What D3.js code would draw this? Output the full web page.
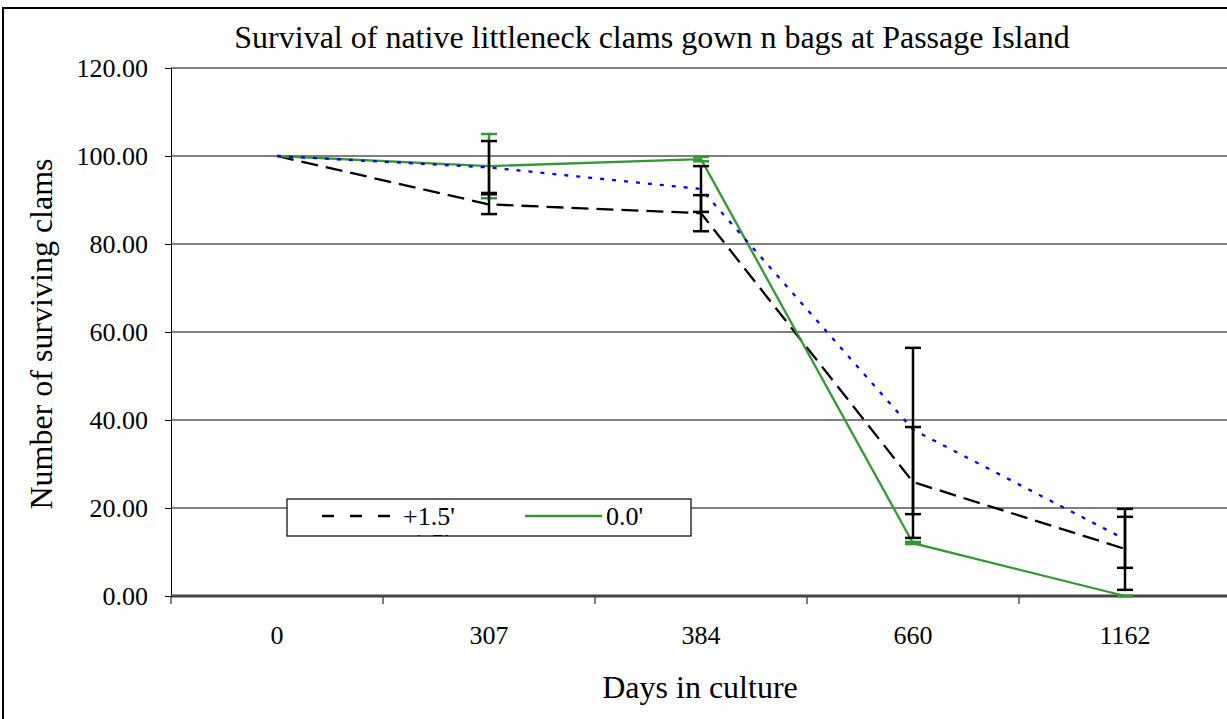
<!DOCTYPE html>
<html><head><meta charset="utf-8">
<script src="https://cdn.jsdelivr.net/npm/d3@7"></script>
<style>html,body{margin:0;padding:0;background:#fff;overflow:hidden}svg{display:block}svg text{font-family:"Liberation Serif","DejaVu Serif",serif !important}</style>
</head><body><svg id="c" width="1227" height="719"></svg>
<script>
const days = ["0", "307", "384", "660", "1162"];
const plus15 = [100, 89.0, 87.0, 25.9, 10.7];
const minus15 = [100, 97.4, 92.5, 37.8, 12.9];
const zero = [100, 97.7, 99.3, 12.0, 0];
const plus15Lo = [null, 86.8, 82.9, 13.2, 1.4];
const plus15Hi = [null, 91.3, 91.1, 38.4, 18.0];
const minus15Lo = [null, 91.6, 87.3, 18.6, 6.4];
const minus15Hi = [null, 103.4, 97.7, 56.4, 19.8];
const zeroLo = [null, 90.4, 98.8, 11.8, 0];
const zeroHi = [null, 105.0, 99.8, 12.3, 0];
const yTicks = [0, 20, 40, 60, 80, 100, 120];
const legendNames = ["+1.5'", "0.0'", "-1.5'"];
const titleText = "Survival of native littleneck clams gown n bags at Passage Island";
const xTitle = "Days in culture";
const yTitle = "Number of surviving clams";

const FONT = "Liberation Serif";
const svg = d3.select("#c");
const L = 171, T = 68, B = 596, R = 1231;
const x = d3.scaleBand().domain(days).range([L, R]);
const y = d3.scaleLinear().domain([0, 120]).range([B, T]);
const cx = d => x(d) + x.bandwidth() / 2;

// outer frame
svg.append("rect").attr("x", 3).attr("y", 8).attr("width", 1240).attr("height", 730)
  .attr("fill", "none").attr("stroke", "#000").attr("stroke-width", 2);

// gridlines
svg.append("g").selectAll("line").data(yTicks.filter(v => v > 0 && v < 120)).join("line")
  .attr("x1", L).attr("x2", R).attr("y1", d => y(d)).attr("y2", d => y(d))
  .attr("stroke", "#000").attr("stroke-width", 1);
svg.append("line").attr("x1", L).attr("x2", R).attr("y1", y(120)).attr("y2", y(120))
  .attr("stroke", "#808080").attr("stroke-width", 2);

// y axis
const ya = svg.append("g").attr("transform", `translate(${L},0)`)
  .call(d3.axisLeft(y).tickValues(yTicks).tickFormat(d3.format(".2f")).tickSize(6).tickPadding(17));
ya.attr("font-family", FONT);
ya.select(".domain").attr("stroke", "#000");
ya.selectAll("text").attr("font-size", 26).attr("font-family", FONT).attr("fill", "#000").attr("dy", "0.34em");

// x axis
const xa = svg.append("g").attr("transform", `translate(0,${B})`)
  .call(d3.axisBottom(x).tickSize(0).tickPadding(30));
xa.attr("font-family", FONT);
xa.select(".domain").remove();
xa.selectAll("text").attr("font-size", 26).attr("font-family", FONT).attr("fill", "#000");
svg.append("g").selectAll("line").data(days).join("line")
  .attr("x1", d => x(d)).attr("x2", d => x(d)).attr("y1", B).attr("y2", B + 8)
  .attr("stroke", "#000").attr("stroke-width", 1);
svg.append("line").attr("x1", L).attr("x2", R).attr("y1", B).attr("y2", B)
  .attr("stroke", "#444").attr("stroke-width", 2.8);

// lines
const line = d3.line().x((d, i) => cx(days[i])).y(d => y(d));
svg.append("path").datum(plus15).attr("d", line).attr("fill", "none")
  .attr("stroke", "#000").attr("stroke-width", 2.3).attr("stroke-dasharray", "17,8");
svg.append("path").datum(zero).attr("d", line).attr("fill", "none")
  .attr("stroke", "#339933").attr("stroke-width", 2.3);
svg.append("path").datum(minus15).attr("d", line).attr("fill", "none")
  .attr("stroke", "#0000ff").attr("stroke-width", 2.3).attr("stroke-dasharray", "4,8");

// error bars
function errBars(lo, hi, color) {
  const g = svg.append("g").attr("stroke", color).attr("stroke-width", 2.5);
  const data = days.map((d, i) => ({ d, lo: lo[i], hi: hi[i] })).filter(e => e.lo !== null);
  g.selectAll(".v").data(data).join("line")
    .attr("x1", e => cx(e.d)).attr("x2", e => cx(e.d)).attr("y1", e => y(e.lo)).attr("y2", e => y(e.hi));
  g.selectAll(".c1").data(data).join("line")
    .attr("x1", e => cx(e.d) - 8).attr("x2", e => cx(e.d) + 8).attr("y1", e => y(e.lo)).attr("y2", e => y(e.lo));
  g.selectAll(".c2").data(data).join("line")
    .attr("x1", e => cx(e.d) - 8).attr("x2", e => cx(e.d) + 8).attr("y1", e => y(e.hi)).attr("y2", e => y(e.hi));
}
errBars(zeroLo, zeroHi, "#339933");
errBars(plus15Lo, plus15Hi, "#000");
errBars(minus15Lo, minus15Hi, "#000");

// legend
const lg = svg.append("g");
svg.append("clipPath").attr("id", "lgclip").append("rect").attr("x", 287).attr("y", 499).attr("width", 404).attr("height", 37);
lg.append("rect").attr("x", 287).attr("y", 499).attr("width", 404).attr("height", 37)
  .attr("fill", "#fff").attr("stroke", "#000").attr("stroke-width", 1.2);
const lgi = lg.append("g").attr("clip-path", "url(#lgclip)");
lgi.append("line").attr("x1", 322).attr("x2", 396).attr("y1", 516).attr("y2", 516)
  .attr("stroke", "#000").attr("stroke-width", 2.5).attr("stroke-dasharray", "12,16");
lgi.append("text").attr("x", 403).attr("y", 525).text(legendNames[0]).attr("font-size", 26).attr("font-family", FONT);
lgi.append("line").attr("x1", 525).attr("x2", 602).attr("y1", 516).attr("y2", 516)
  .attr("stroke", "#339933").attr("stroke-width", 2.5);
lgi.append("text").attr("x", 606).attr("y", 525).text(legendNames[1]).attr("font-size", 26).attr("font-family", FONT);
lgi.append("text").attr("x", 403).attr("y", 552).text(legendNames[2]).attr("font-size", 26).attr("font-family", FONT);

// titles
svg.append("text").attr("x", 652).attr("y", 48).attr("text-anchor", "middle").attr("font-size", 32).attr("font-family", FONT).text(titleText);
svg.append("text").attr("x", 700).attr("y", 698).attr("text-anchor", "middle").attr("font-size", 32).attr("font-family", FONT).text(xTitle);
svg.append("text").attr("transform", "translate(52,334) rotate(-90)").attr("text-anchor", "middle").attr("font-size", 32).attr("font-family", FONT).text(yTitle);
</script></body></html>
